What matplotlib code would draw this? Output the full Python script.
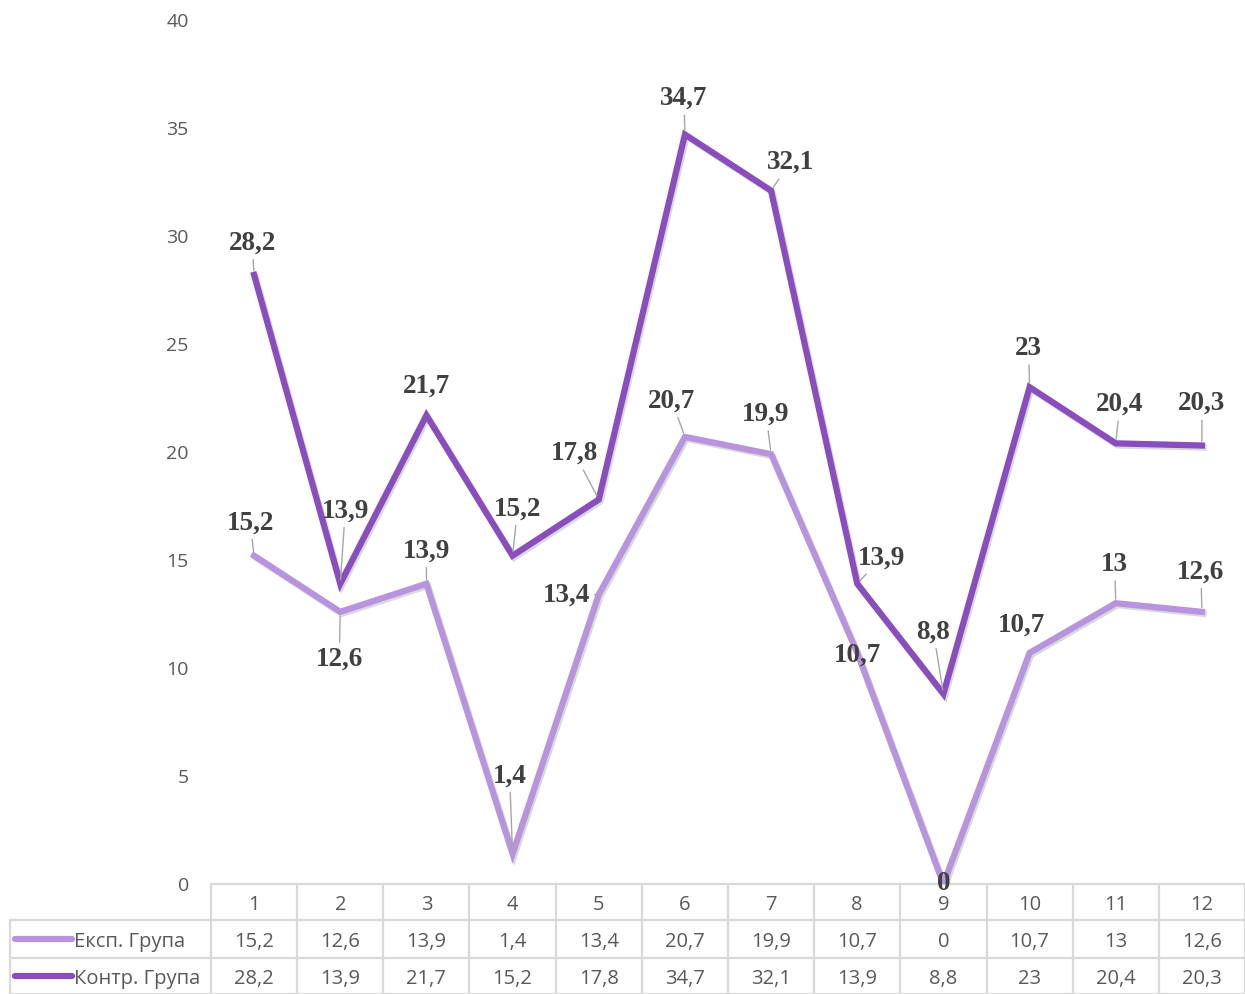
import matplotlib
matplotlib.use('Agg')

from matplotlib import pyplot as plt
from matplotlib import patheffects as pe
from matplotlib.lines import Line2D
import numpy as np

# data
days = [1, 2, 3, 4, 5, 6, 7, 8, 9, 10, 11, 12]
exp_group = [15.2, 12.6, 13.9, 1.4, 13.4, 20.7, 19.9, 10.7, 0, 10.7, 13, 12.6]
ctrl_group = [28.2, 13.9, 21.7, 15.2, 17.8, 34.7, 32.1, 13.9, 8.8, 23, 20.4, 20.3]
series_names = ["Експ. Група", "Контр. Група"]

# label offsets in pixels (dx, dy) from each point
exp_offsets = [(-4, 33), (-1, -47), (0, 33), (-3, 78), (-32, -1), (-13, 36),
               (-5, 40), (0, -2), (0, 0), (-8, 28), (-1, 39), (-1, 40)]
ctrl_offsets = [(-2, 32), (5, 73), (0, 29), (5, 47), (-24, 46), (-1, 36),
                (19, 28), (24, 26), (-10, 62), (-1, 39), (4, 39), (0, 42)]

light = '#B894DE'
dark = '#8A4DBE'
gray_txt = '#595959'
grid_c = '#D9D9D9'

def fmt(v):
    s = ('%.1f' % v).rstrip('0').rstrip('.')
    return s.replace('.', ',')

fig = plt.figure(figsize=(12.45, 9.94), dpi=100)
W, H = 1245, 994
ax = fig.add_axes([211 / W, 1 - 884 / H, 1 - 211 / W, (884 - 20) / H])

x = np.arange(len(days))
shadow = [pe.SimpleLineShadow(offset=(1.2, -1.5), shadow_color='black', alpha=0.15), pe.Normal()]
ax.plot(x, exp_group, color=light, lw=4.5, solid_joinstyle='miter', path_effects=shadow, zorder=3)
ax.plot(x, ctrl_group, color=dark, lw=4.5, solid_joinstyle='miter', path_effects=shadow, zorder=4)

lab_font = dict(family='Liberation Serif', weight='bold', size=19.5, color='#404040')
for vals, offs in ((exp_group, exp_offsets), (ctrl_group, ctrl_offsets)):
    for i, (v, (dx, dy)) in enumerate(zip(vals, offs)):
        arrow = None
        if np.hypot(dx, dy) > 30:
            arrow = dict(arrowstyle='-', color='#A6A6A6', lw=1, shrinkA=1, shrinkB=3)
        ax.annotate(fmt(v), xy=(i, v), xytext=(dx, dy), textcoords='offset pixels',
                    ha='center', va='center', arrowprops=arrow, zorder=6, **lab_font)

ax.set_xlim(-0.5, len(days) - 0.5)
ax.set_ylim(0, 40)
ax.set_yticks(np.arange(0, 41, 5))
ax.set_xticks([])
for s in ax.spines.values():
    s.set_visible(False)
ax.tick_params(axis='y', length=0, pad=16, labelsize=14, labelcolor=gray_txt)
for t in ax.get_yticklabels():
    t.set_family(['Open Sans', 'DejaVu Sans'])

# data table below the plot
tr = ax.get_xaxis_transform()
ah = 864.0
row_y = [0, -36 / ah, -74 / ah, -110 / ah]
txt_shift = -3 / ah
tab_font = dict(family=['Open Sans', 'DejaVu Sans'], size=14.5, color=gray_txt)
lkw = dict(color=grid_c, lw=1.6, transform=tr, clip_on=False)

left = -0.5 - (211 - 10) / 86.2
ax.add_line(Line2D([-0.5, len(days) - 0.5], [row_y[0]] * 2, **lkw))
for ry in row_y[1:]:
    ax.add_line(Line2D([left, len(days) - 0.5], [ry] * 2, **lkw))
for b in np.arange(-0.5, len(days), 1.0):
    ax.add_line(Line2D([b, b], [row_y[0], row_y[3]], **lkw))
ax.add_line(Line2D([left, left], [row_y[1], row_y[3]], **lkw))

for i, d in enumerate(days):
    ax.text(i, (row_y[0] + row_y[1]) / 2 + txt_shift, str(d), transform=tr, ha='center', va='center', **tab_font)
    ax.text(i, (row_y[1] + row_y[2]) / 2 + txt_shift, fmt(exp_group[i]), transform=tr, ha='center', va='center', **tab_font)
    ax.text(i, (row_y[2] + row_y[3]) / 2 + txt_shift, fmt(ctrl_group[i]), transform=tr, ha='center', va='center', **tab_font)

for r, (name, col) in enumerate(zip(series_names, [light, dark])):
    yy = (row_y[r + 1] + row_y[r + 2]) / 2
    ax.add_line(Line2D([left + 0.06, left + 0.72], [yy, yy], color=col, lw=4.5,
                       solid_capstyle='round', transform=tr, clip_on=False))
    ax.text(left + 0.74, yy + txt_shift, name, transform=tr, ha='left', va='center', **tab_font)

plt.savefig('out.png', dpi=100)
plt.close()
